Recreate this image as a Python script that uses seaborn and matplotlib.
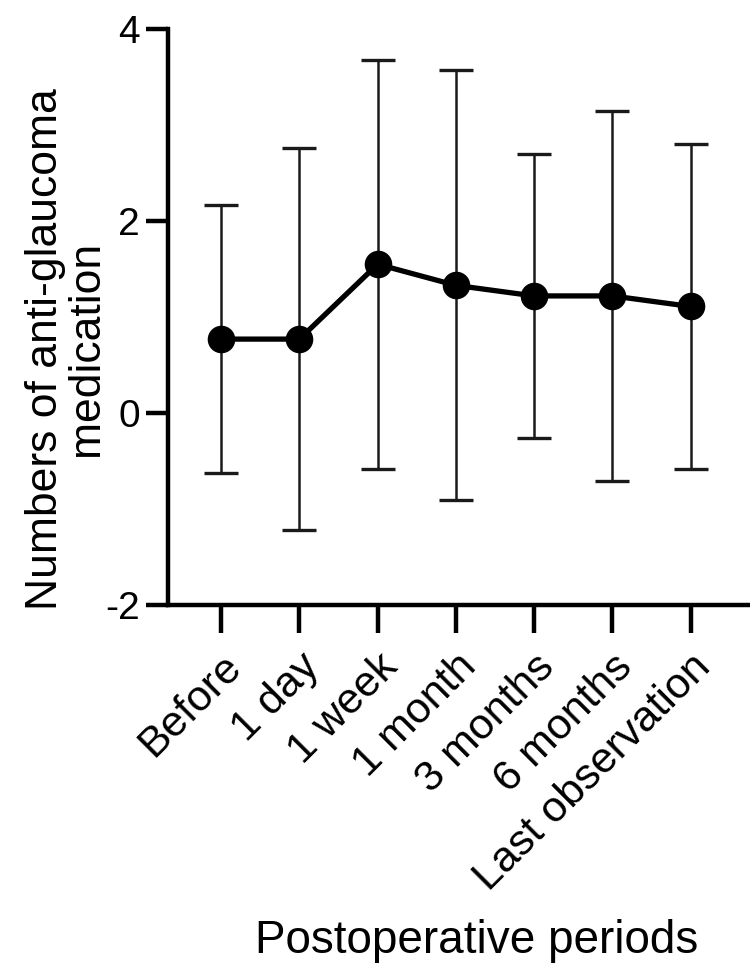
import numpy as np
import pandas as pd
import matplotlib
matplotlib.use('Agg')
import matplotlib.pyplot as plt
import seaborn as sns

# values (mean +/- SD)
periods = ['Before', '1 day', '1 week', '1 month', '3 months', '6 months',
           'Last observation']
means = [0.77, 0.77, 1.55, 1.33, 1.22, 1.22, 1.11]
sds = [1.40, 1.99, 2.13, 2.24, 1.48, 1.93, 1.69]
yticks = [-2, 0, 2, 4]

sns.set_style('ticks')
plt.rcParams['font.family'] = ['Liberation Sans', 'DejaVu Sans']
plt.rcParams['text.color'] = 'black'
plt.rcParams['axes.labelcolor'] = 'black'

df = pd.DataFrame({'period': periods, 'mean': means, 'sd': sds})

fig = plt.figure(figsize=(7.5, 9.71), dpi=100)
ax = fig.add_axes([0.224, 0.377, 0.776, 0.593])

# error bars first so the markers sit on top
ax.errorbar(np.arange(len(periods)), df['mean'], yerr=df['sd'], fmt='none',
            ecolor='#1a1a1a', elinewidth=1.8, capsize=12, capthick=2.4,
            zorder=1)
sns.pointplot(data=df, x='period', y='mean', errorbar=None, color='black',
              markers='o', markersize=17, linewidth=3.8, ax=ax)

ax.set_xlim(-0.68, 6.76)
ax.set_ylim(-2, 4)
ax.set_yticks(yticks)
ax.set_yticklabels([str(t) for t in yticks], fontsize=28)
ax.set_xticks(range(len(periods)))
ax.set_xticklabels(periods, rotation=45, ha='right', rotation_mode='anchor',
                   fontsize=31)
ax.tick_params(axis='y', length=16, width=3.2, pad=4, colors='black')
ax.tick_params(axis='x', length=20, width=3.2, pad=10, colors='black')

sns.despine(ax=ax)
for s in ['left', 'bottom']:
    ax.spines[s].set_linewidth(3.2)
    ax.spines[s].set_color('black')

ax.set_ylabel('Numbers of anti-glaucoma\nmedication', fontsize=32,
              linespacing=1.0)
ax.yaxis.set_label_coords(-0.105, 0.445)
ax.set_xlabel('Postoperative periods', fontsize=33)
ax.xaxis.set_label_coords(0.53, -0.545)

fig.savefig('out.png', dpi=100)
